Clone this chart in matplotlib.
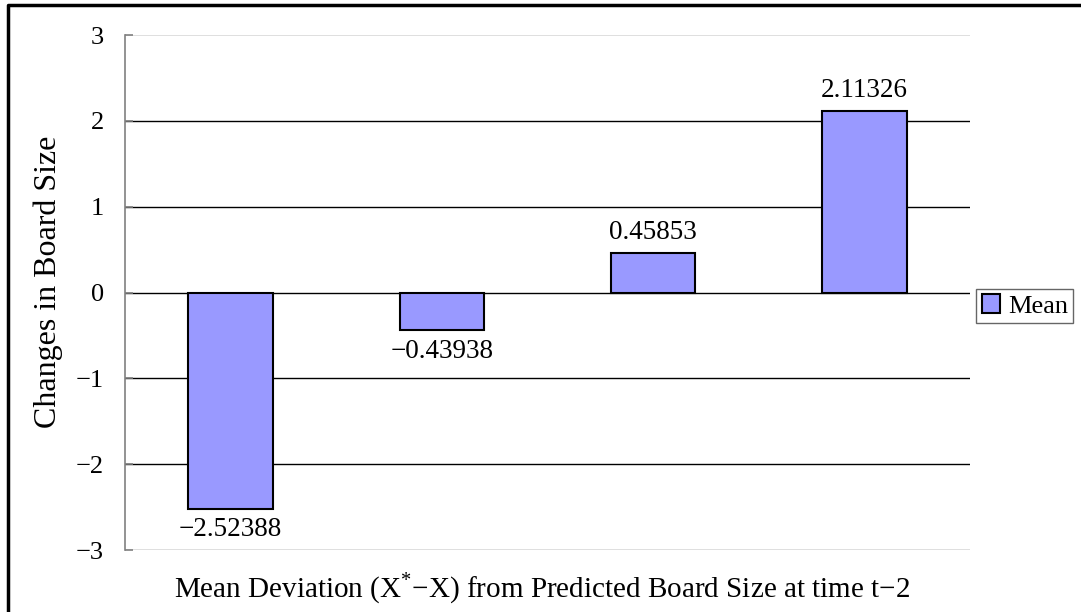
import matplotlib.pyplot as plt
from matplotlib.lines import Line2D

plt.rcParams['font.family'] = ['Liberation Serif', 'DejaVu Sans']
plt.rcParams['mathtext.fontset'] = 'custom'
plt.rcParams['mathtext.rm'] = 'Liberation Serif'

# data
groups = ['G1', 'G2', 'G3', 'G4']
means = [-2.52388, -0.43938, 0.45853, 2.11326]
mean_labels = ['-2.52388', '-0.43938', '0.45853', '2.11326']
yticks = [-3, -2, -1, 0, 1, 2, 3]

fig = plt.figure(figsize=(10.81, 6.12), dpi=100)
ax = fig.add_axes([0.1156, 0.1013, 0.7817, 0.8415])

x = range(len(groups))
bars = ax.bar(x, means, width=0.4, color='#9999FF', edgecolor='black',
              linewidth=1.5, label='Mean', zorder=3)

# value labels
for xi, v, s in zip(x, means, mean_labels):
    if v >= 0:
        ax.annotate(s.replace('-', '\u2212'), (xi, v), xytext=(0, 6),
                    textcoords='offset points', ha='center', va='bottom', fontsize=19.5)
    else:
        ax.annotate(s.replace('-', '\u2212'), (xi, v), xytext=(0, -6),
                    textcoords='offset points', ha='center', va='top', fontsize=19.5)

ax.set_xlim(-0.5, 3.5)
ax.set_ylim(-3, 3)
ax.set_yticks(yticks)
ax.set_xticks([])
for t in [-2, -1, 0, 1, 2]:
    ax.axhline(t, color='black', lw=1, zorder=1)
ax.axhline(3, color='#d9d9d9', lw=1.2, zorder=1)
ax.axhline(-3, color='#d9d9d9', lw=1.2, zorder=1)

for s in ['top', 'right', 'bottom']:
    ax.spines[s].set_visible(False)
ax.spines['left'].set_color('#808080')
ax.spines['left'].set_linewidth(1.2)
ax.tick_params(axis='y', direction='in', length=6, width=1.2, color='#808080',
               pad=15, labelsize=19)

fig.text(0.045, 0.539, 'Changes in Board Size', rotation=90,
         ha='center', va='center', fontsize=23)
fig.text(0.501, 0.039, 'Mean Deviation (X$^{*}$\u2212X) from Predicted Board Size at time t\u22122',
         ha='center', va='center', fontsize=21)

leg = ax.legend(loc='center', bbox_to_anchor=(0.948, 0.5), bbox_transform=fig.transFigure,
                fontsize=19, frameon=True, fancybox=False, handlelength=0.7,
                handleheight=0.7, handletextpad=0.3, borderpad=0.2, borderaxespad=0)
leg.get_frame().set_edgecolor('#404040')
leg.get_frame().set_linewidth(1)

# outer border (left and top)
fig.add_artist(Line2D([0.0074, 0.0074, 1.0], [0.0, 0.992, 0.992],
                      transform=fig.transFigure, color='black', lw=2.5))

fig.savefig('out.png', dpi=100)
